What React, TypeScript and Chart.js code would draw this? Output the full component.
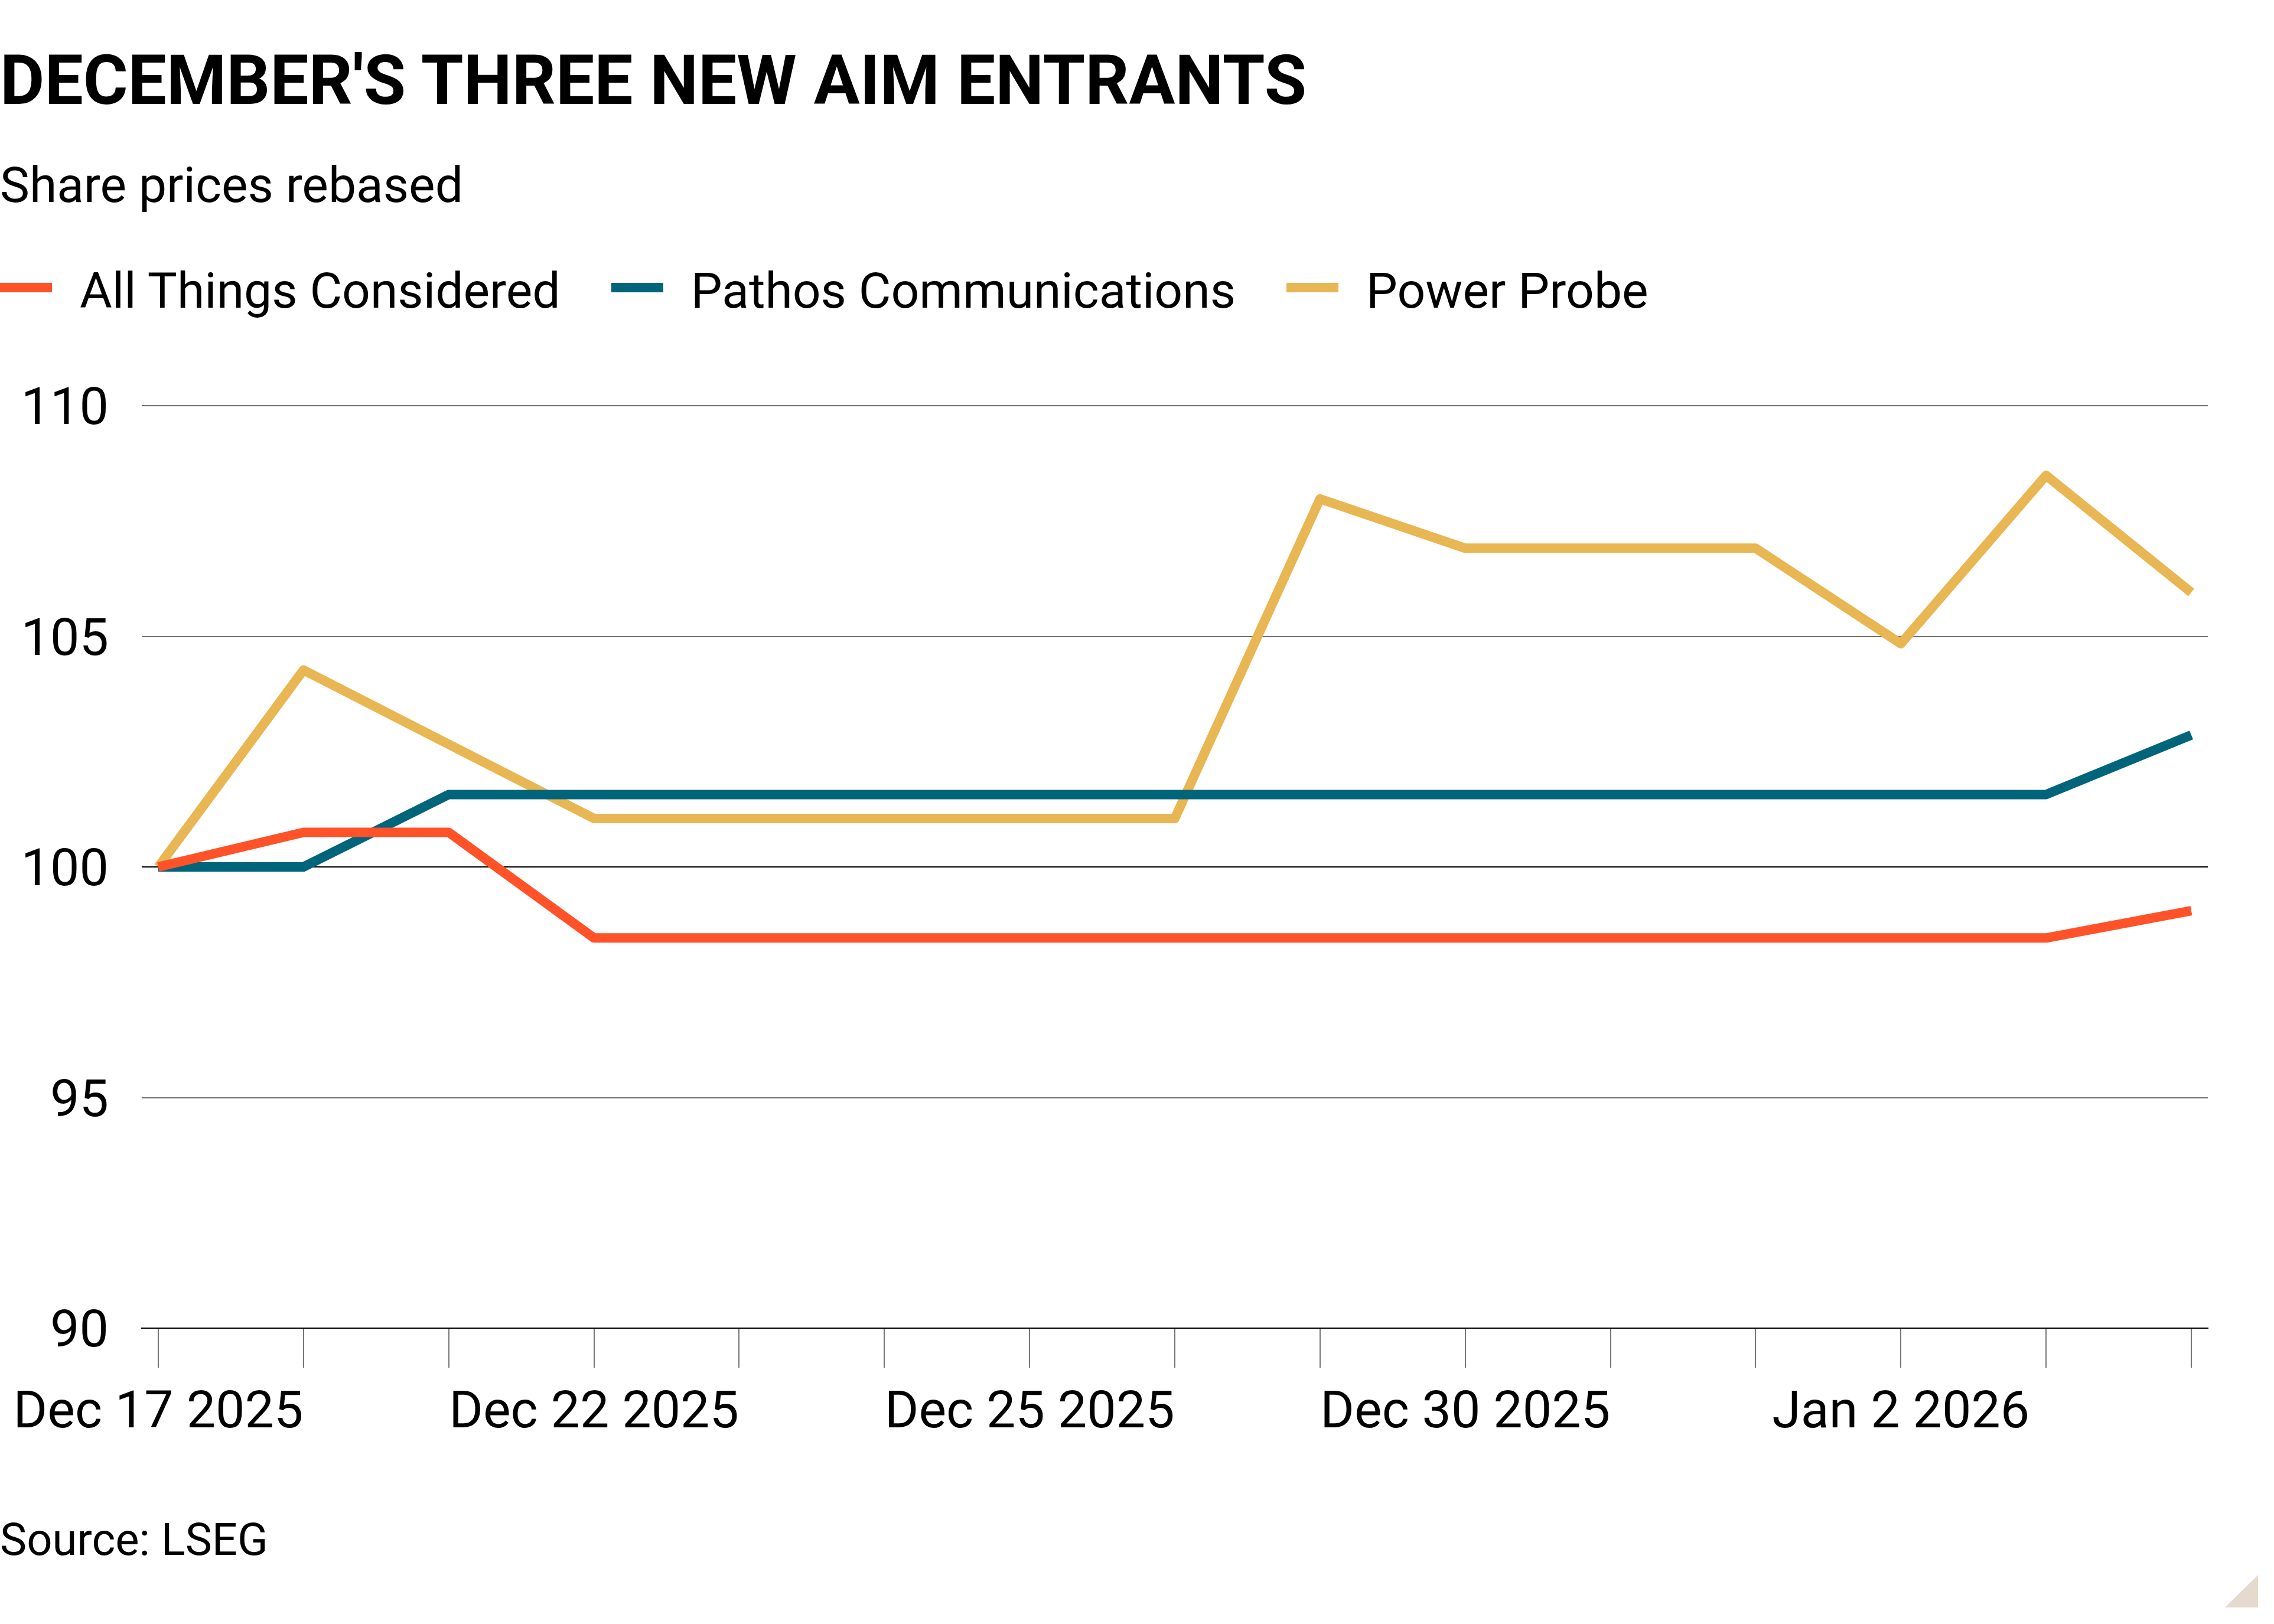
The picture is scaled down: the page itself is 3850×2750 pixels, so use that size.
import React, { useEffect, useRef } from 'react';
import { Chart, registerables } from 'chart.js';

Chart.register(...registerables);

// ---- Data ----
const categories = [
  'Dec 17 2025', 'Dec 18 2025', 'Dec 19 2025', 'Dec 22 2025', 'Dec 23 2025',
  'Dec 24 2025', 'Dec 25 2025', 'Dec 26 2025', 'Dec 29 2025', 'Dec 30 2025',
  'Dec 31 2025', 'Jan 1 2026', 'Jan 2 2026', 'Jan 5 2026', 'Jan 6 2026',
];
const allThingsConsidered = [
  100, 100.75, 100.75, 98.46, 98.46, 98.46, 98.46, 98.46, 98.46, 98.46,
  98.46, 98.46, 98.46, 98.46, 99.05,
];
const pathosCommunications = [
  100, 100, 101.57, 101.57, 101.57, 101.57, 101.57, 101.57, 101.57, 101.57,
  101.57, 101.57, 101.57, 101.57, 102.86,
];
const powerProbe = [
  100, 104.27, 102.66, 101.05, 101.05, 101.05, 101.05, 101.05, 107.98, 106.91,
  106.91, 106.91, 104.84, 108.49, 105.95,
];
const seriesNames = ['All Things Considered', 'Pathos Communications', 'Power Probe'];
const seriesColors = ['#FF5229', '#00657A', '#E8B652'];
const yTicks = [90, 95, 100, 105, 110];
const labelEvery = 3;

const FONT = 'Roboto, "Noto Sans", sans-serif';

const toPoints = (vals: number[]) => vals.map((y, i) => ({ x: i, y }));

function LineChart() {
  const ref = useRef<HTMLCanvasElement | null>(null);
  useEffect(() => {
    if (!ref.current) return;
    const series = [allThingsConsidered, pathosCommunications, powerProbe];
    const chart = new Chart(ref.current, {
      type: 'line',
      data: {
        datasets: series.map((s, i) => ({
          label: seriesNames[i],
          data: toPoints(s),
          borderColor: seriesColors[i],
          backgroundColor: seriesColors[i],
          borderWidth: 16,
          pointRadius: 0,
          tension: 0,
          borderJoinStyle: 'round' as const,
          borderCapStyle: 'butt' as const,
          fill: false,
        })),
      },
      options: {
        animation: false,
        responsive: false,
        devicePixelRatio: 1,
        events: [],
        layout: { padding: { top: 87, right: 112, bottom: 0, left: 0 } },
        plugins: {
          legend: { display: false },
          tooltip: { enabled: false },
        },
        scales: {
          x: {
            type: 'linear',
            min: -0.114,
            max: categories.length - 1 + 0.114,
            bounds: 'data',
            afterBuildTicks: (s: any) => {
              s.ticks = categories.map((_, i) => ({ value: i }));
            },
            afterFit: (s: any) => {
              s.height = 251;
              s.paddingLeft = 0;
              s.paddingRight = 0;
            },
            grid: {
              drawOnChartArea: false,
              drawTicks: true,
              tickLength: 67,
              color: '#777777',
              lineWidth: 2,
            },
            border: { display: true, color: '#000000', width: 2 },
            ticks: {
              autoSkip: false,
              maxRotation: 0,
              minRotation: 0,
              padding: 26,
              color: '#000000',
              font: { family: FONT, size: 88 },
              callback: (v: any) => {
                const i = Math.round(Number(v));
                return i % labelEvery === 0 ? categories[i] : '';
              },
            },
          },
          y: {
            type: 'linear',
            min: yTicks[0],
            max: yTicks[yTicks.length - 1],
            afterBuildTicks: (s: any) => {
              s.ticks = yTicks.map((v) => ({ value: v }));
            },
            afterFit: (s: any) => {
              s.width = 240;
              s.paddingTop = 0;
              s.paddingBottom = 0;
            },
            grid: {
              drawTicks: false,
              color: (ctx: any) =>
                ctx.tick && (ctx.tick.value === 100 || ctx.tick.value === 90) ? '#000000' : '#717171',
              lineWidth: 2,
            },
            border: { display: false },
            ticks: {
              padding: 56,
              labelOffset: 9,
              color: '#000000',
              font: { family: FONT, size: 88 },
            },
          },
        },
      },
    } as any);
    return () => chart.destroy();
  }, []);
  return (
    <canvas
      ref={ref}
      width={3850}
      height={1900}
      style={{ position: 'absolute', left: 0, top: 600, width: 3850, height: 1900 }}
    />
  );
}

export default function App() {
  return (
    <div
      style={{
        position: 'absolute',
        left: 0,
        top: 0,
        width: 3850,
        height: 2750,
        background: '#ffffff',
        fontFamily: FONT,
        color: '#000000',
        overflow: 'hidden',
      }}
    >
      <div
        style={{
          position: 'absolute', left: 0, top: 78, fontSize: 116, lineHeight: '116px',
          fontWeight: 700, whiteSpace: 'nowrap',
        }}
      >
        DECEMBER'S THREE NEW AIM ENTRANTS
      </div>
      <div
        style={{
          position: 'absolute', left: 0, top: 272, fontSize: 84, lineHeight: '84px',
          whiteSpace: 'nowrap',
        }}
      >
        Share prices rebased
      </div>
      <div
        style={{
          position: 'absolute', left: 0, top: 451, display: 'flex', alignItems: 'flex-start',
          fontSize: 84, lineHeight: '84px', whiteSpace: 'nowrap',
        }}
      >
        {seriesNames.map((name, i) => (
          <div key={name} style={{ display: 'flex', alignItems: 'flex-start', marginRight: 86 }}>
            <div style={{ width: 88, height: 16, marginTop: 28, background: seriesColors[i], marginRight: 47 }} />
            <div>{name}</div>
          </div>
        ))}
      </div>
      <LineChart />
      <div
        style={{
          position: 'absolute', left: 0, top: 2569, fontSize: 76, lineHeight: '76px',
          whiteSpace: 'nowrap',
        }}
      >
        Source: LSEG
      </div>
      <div
        style={{
          position: 'absolute', left: 3767, top: 2667, width: 56, height: 55,
          background: '#E6D9CD', clipPath: 'polygon(100% 0, 100% 100%, 0 100%)',
        }}
      />
    </div>
  );
}
